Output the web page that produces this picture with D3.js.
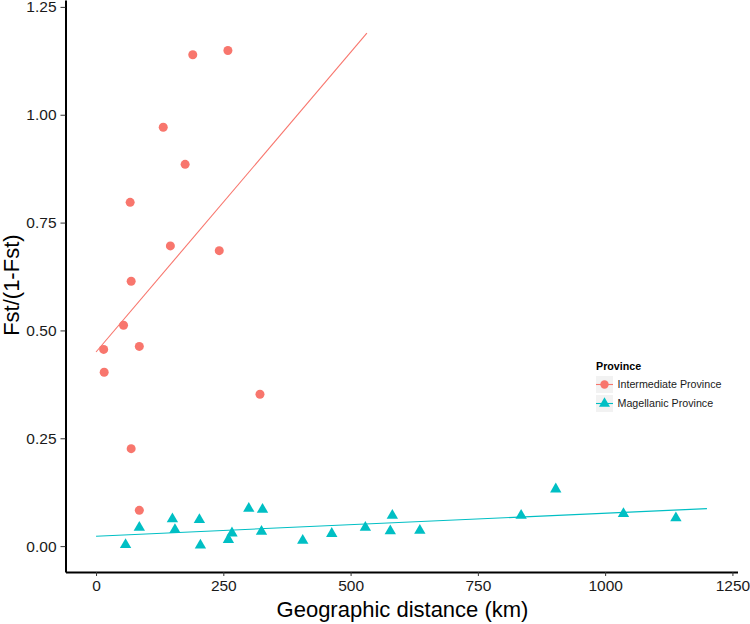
<!DOCTYPE html>
<html>
<head>
<meta charset="utf-8">
<script src="https://cdn.jsdelivr.net/npm/d3@7"></script>
<style>
  html, body { margin: 0; padding: 0; background: #fff; }
  svg text { font-family: 'Liberation Sans', Arial, sans-serif; }
  .axis .domain { stroke: #000; stroke-width: 2px; }
  .axis .tick line { stroke: #333; stroke-width: 1px; }
  .axis .tick text { fill: #1a1a1a; font-size: 15.5px; }
</style>
</head>
<body>
<div id="main"></div>
<script>
'use strict';
// - - - - - - - - - -

// data
const intermediateDist = [190, 259, 132, 175, 67, 146, 242, 69, 54, 15, 85, 16, 322, 69, 85];
const intermediateFst = [1.139, 1.149, 0.971, 0.885, 0.797, 0.696, 0.685, 0.614, 0.512, 0.456, 0.463, 0.403, 0.352, 0.226, 0.083];

const magellanicDist = [58, 85, 150, 155, 203, 205, 260, 267, 300, 327, 325, 406, 463, 529, 582, 578, 636, 835, 903, 1036, 1139];
const magellanicFst = [0.003, 0.043, 0.063, 0.038, 0.061, 0.002, 0.015, 0.030, 0.087, 0.085, 0.034, 0.013, 0.029, 0.043, 0.071, 0.035, 0.036, 0.071, 0.132, 0.075, 0.065];

// regression lines (start / end)
const intermediateFitX = [0, 532];
const intermediateFitY = [0.450, 1.189];
const magellanicFitX = [0, 1200];
const magellanicFitY = [0.023, 0.087];

const provinces = ['Intermediate Province', 'Magellanic Province'];
const xTicks = [0, 250, 500, 750, 1000, 1250];
const yTicks = [0, 0.25, 0.5, 0.75, 1, 1.25];

// declaration
let
  svg = undefined,
  canvas = {},
  xScale = undefined,
  yScale = undefined;

const colors = { 'Intermediate Province': '#F8766D', 'Magellanic Province': '#00BFC4' };

// configuration
canvas = {
  context: '#main',
  width: 750,
  height: 624,
  plot: { left: 65.5, right: 737.5, top: 0, bottom: 572 }
};

// methods
function setCanvas(domContext) {
  svg = d3.select(domContext)
    .append('svg')
    .attr('width', canvas.width)
    .attr('height', canvas.height);
}

function setScales() {
  xScale = d3.scaleLinear()
    .domain([-60, 1260])
    .range([canvas.plot.left, canvas.plot.right]);
  yScale = d3.scaleLinear()
    .domain([-0.06, 1.266])
    .range([canvas.plot.bottom, canvas.plot.top]);
}

function setAxes() {
  svg.append('g')
    .attr('class', 'axis')
    .attr('transform', 'translate(0,' + canvas.plot.bottom + ')')
    .call(d3.axisBottom(xScale)
      .tickValues(xTicks)
      .tickFormat(d3.format('d'))
      .tickSizeInner(4)
      .tickSizeOuter(0)
      .tickPadding(4));

  svg.append('g')
    .attr('class', 'axis')
    .attr('transform', 'translate(' + canvas.plot.left + ',0)')
    .call(d3.axisLeft(yScale)
      .tickValues(yTicks)
      .tickFormat(d3.format('.2f'))
      .tickSizeInner(5)
      .tickSizeOuter(0)
      .tickPadding(4));

  // axis titles
  svg.append('text')
    .attr('x', (canvas.plot.left + canvas.plot.right) / 2 + 1)
    .attr('y', 617)
    .attr('text-anchor', 'middle')
    .style('font-size', '22px')
    .style('fill', '#000')
    .text('Geographic distance (km)');

  svg.append('text')
    .attr('transform', 'translate(19,' + yScale(0.605) + ') rotate(-90)')
    .attr('text-anchor', 'middle')
    .style('font-size', '22px')
    .style('fill', '#000')
    .text('Fst/(1-Fst)');
}

function drawLine(xs, ys, color) {
  const pts = xs.map((x, i) => [x, ys[i]]);
  svg.append('path')
    .datum(pts)
    .attr('fill', 'none')
    .attr('stroke', color)
    .attr('stroke-width', 1.1)
    .attr('d', d3.line().x(d => xScale(d[0])).y(d => yScale(d[1])));
}

function drawPoints() {
  const tri = d3.symbol().type(d3.symbolTriangle).size(56);

  svg.append('g')
    .selectAll('circle')
    .data(intermediateDist.map((x, i) => ({ x: x, y: intermediateFst[i] })))
    .enter()
    .append('circle')
    .attr('cx', d => xScale(d.x))
    .attr('cy', d => yScale(d.y))
    .attr('r', 4.5)
    .attr('fill', colors[provinces[0]]);

  svg.append('g')
    .selectAll('path')
    .data(magellanicDist.map((x, i) => ({ x: x, y: magellanicFst[i] })))
    .enter()
    .append('path')
    .attr('d', tri)
    .attr('transform', d => 'translate(' + xScale(d.x) + ',' + yScale(d.y) + ')')
    .attr('fill', colors[provinces[1]]);
}

function drawLegend() {
  const lg = svg.append('g').attr('transform', 'translate(596,0)');
  const keyTop = [376, 395];
  const keySize = 17;

  lg.append('text')
    .attr('x', 0)
    .attr('y', 370)
    .style('font-size', '10.7px')
    .style('font-weight', 'bold')
    .style('fill', '#000')
    .text('Province');

  provinces.forEach(function (p, i) {
    const cy = keyTop[i] + keySize / 2;
    lg.append('rect')
      .attr('x', 0).attr('y', keyTop[i])
      .attr('width', keySize).attr('height', keySize)
      .attr('fill', '#f2f2f2');
    lg.append('line')
      .attr('x1', 0).attr('x2', keySize)
      .attr('y1', cy).attr('y2', cy)
      .attr('stroke', colors[p])
      .attr('stroke-width', 1.1);
    if (i === 0) {
      lg.append('circle').attr('cx', keySize / 2).attr('cy', cy).attr('r', 4.2).attr('fill', colors[p]);
    } else {
      lg.append('path')
        .attr('d', d3.symbol().type(d3.symbolTriangle).size(52)())
        .attr('transform', 'translate(' + keySize / 2 + ',' + cy + ')')
        .attr('fill', colors[p]);
    }
    lg.append('text')
      .attr('x', 21.5)
      .attr('y', cy + 3.8)
      .style('font-size', '10.7px')
      .style('fill', '#1a1a1a')
      .text(p);
  });
}

// control
setCanvas(canvas.context);
setScales();
drawLine(intermediateFitX, intermediateFitY, colors[provinces[0]]);
drawLine(magellanicFitX, magellanicFitY, colors[provinces[1]]);
drawPoints();
setAxes();
drawLegend();

// - - - - - - - - - -
</script>
</body>
</html>
